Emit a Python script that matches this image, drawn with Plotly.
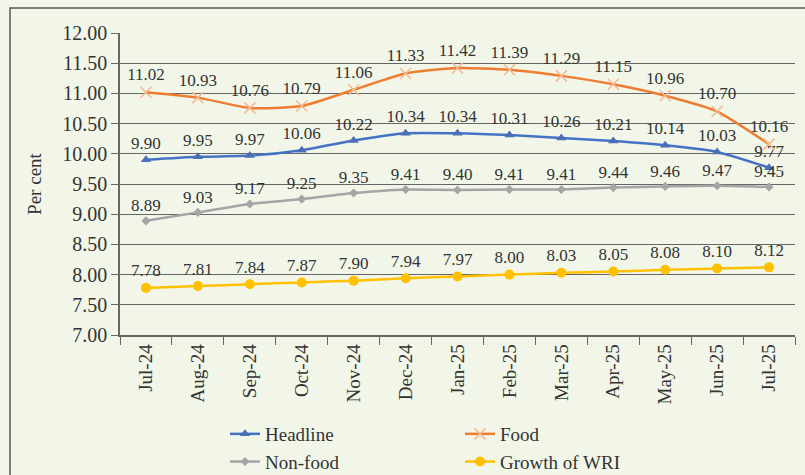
import plotly.graph_objects as go

months = ['Jul-24', 'Aug-24', 'Sep-24', 'Oct-24', 'Nov-24', 'Dec-24', 'Jan-25',
          'Feb-25', 'Mar-25', 'Apr-25', 'May-25', 'Jun-25', 'Jul-25']
headline = [9.90, 9.95, 9.97, 10.06, 10.22, 10.34, 10.34, 10.31, 10.26, 10.21, 10.14, 10.03, 9.77]
food = [11.02, 10.93, 10.76, 10.79, 11.06, 11.33, 11.42, 11.39, 11.29, 11.15, 10.96, 10.70, 10.16]
non_food = [8.89, 9.03, 9.17, 9.25, 9.35, 9.41, 9.40, 9.41, 9.41, 9.44, 9.46, 9.47, 9.45]
wri = [7.78, 7.81, 7.84, 7.87, 7.90, 7.94, 7.97, 8.00, 8.03, 8.05, 8.08, 8.10, 8.12]

FONT = 'Liberation Serif, DejaVu Serif, serif'
TXT = '#333333'
GRID = '#666666'

series = [
    ('Headline', headline, '#4472C4', dict(symbol='triangle-up', size=9, color='#4a6fb5')),
    ('Food', food, '#ED7D31', dict(symbol='x-thin', size=11, color='#f7b88f',
                                   line=dict(width=1.5, color='#f7b88f'))),
    ('Non-food', non_food, '#A5A5A5', dict(symbol='diamond', size=7, color='#a5a5a5')),
    ('Growth of WRI', wri, '#FFC000', dict(symbol='circle', size=10, color='#ffc000')),
]

fig = go.Figure()
for name, vals, col, mk in series:
    fig.add_trace(go.Scatter(
        x=months, y=vals, name=name, mode='lines+markers+text',
        line=dict(color=col, width=2.5, shape='spline', smoothing=0.6),
        marker=mk,
        text=[f'{v:.2f}' for v in vals], textposition='top center',
        textfont=dict(family=FONT, size=17, color=TXT),
    ))

# outer frame of the exhibit
fig.add_shape(type='rect', xref='paper', yref='paper',
              x0=(10 - 120) / 675, x1=1.05, y0=-0.6, y1=1 + 25 / 302,
              line=dict(color='#595959', width=1.5), layer='below')

fig.update_layout(
    width=805, height=475,
    margin=dict(l=120, r=10, t=33, b=140, autoexpand=False),
    paper_bgcolor='#f1f6e8', plot_bgcolor='#f1f6e8',
    font=dict(family=FONT, size=17, color=TXT),
    showlegend=True,
    legend=dict(orientation='h', x=225 / 805, xanchor='left', xref='container',
                y=1 - 415 / 475, yanchor='top', yref='container',
                entrywidth=190, entrywidthmode='pixels',
                font=dict(family=FONT, size=19, color=TXT),
                bgcolor='rgba(0,0,0,0)', tracegroupgap=0),
)
fig.update_yaxes(range=[7, 12], dtick=0.5, tickformat='.2f', automargin=False,
                 showgrid=True, gridcolor=GRID, gridwidth=1,
                 showline=True, linecolor=GRID, linewidth=1.5,
                 ticks='outside', ticklen=7, tickcolor=GRID,
                 tickfont=dict(family=FONT, size=20, color=TXT),
                 title=dict(text='Per cent', standoff=16,
                            font=dict(family=FONT, size=19, color=TXT)),
                 zeroline=False)
fig.update_xaxes(type='category', tickangle=-90, tickson='boundaries', automargin=False,
                 showgrid=False, showline=True, linecolor=GRID, linewidth=1.5,
                 ticks='outside', ticklen=8, tickcolor=GRID,
                 tickfont=dict(family=FONT, size=19, color=TXT),
                 range=[-0.5, 12.5])

fig.write_html('out.html', config={'displayModeBar': False},
               post_script="document.body.style.margin='0';")
